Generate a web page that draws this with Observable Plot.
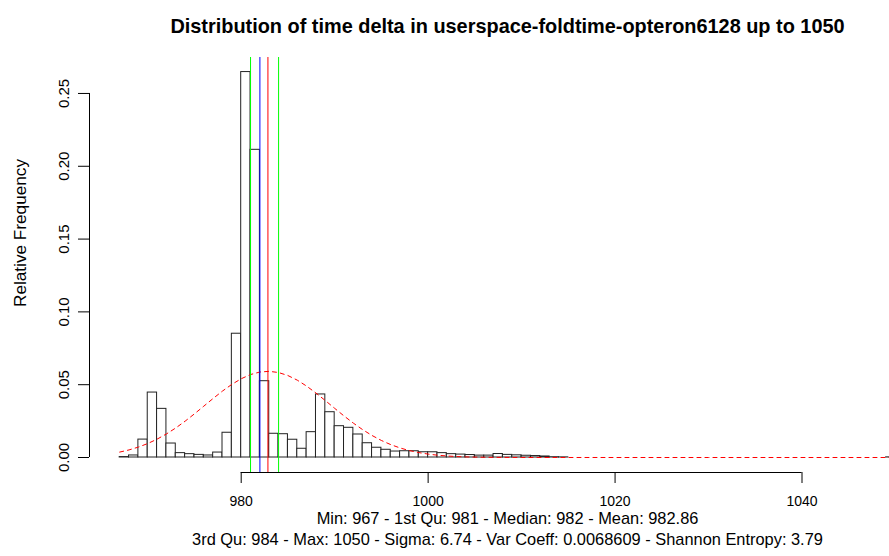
<!DOCTYPE html>
<html><head><meta charset="utf-8">
<script src="https://cdn.jsdelivr.net/npm/d3@7"></script>
<script src="https://cdn.jsdelivr.net/npm/@observablehq/plot@0.6"></script>
<style>body{margin:0;background:#fff} #chart svg{display:block}</style>
</head><body><div id="chart"></div>
<script>
// histogram bins (left edge, width 1) and relative frequency
const binStarts = [967,968,969,970,971,972,973,974,975,976,977,978,979,980,981,982,983,984,985,986,987,988,989,990,991,992,993,994,995,996,997,998,999,1000,1001,1002,1003,1004,1005,1006,1007,1008,1009,1010,1011,1012,1013,1014,1015,1016,1017,1018,1019,1020,1021,1022,1023,1024,1025,1026,1027,1028,1029,1030,1031,1032,1033,1034,1035,1036,1037,1038,1039,1040,1041,1042,1043,1044,1045,1046,1047,1048,1049];
const relFreq = [0.0003,0.0014,0.0123,0.0446,0.0334,0.0096,0.0030,0.0023,0.0018,0.0014,0.0034,0.0170,0.0850,0.2647,0.2113,0.0524,0.0163,0.0160,0.0122,0.0060,0.0174,0.0433,0.0311,0.0215,0.0204,0.0158,0.0098,0.0067,0.0053,0.0041,0.0043,0.0043,0.0036,0.0036,0.0030,0.0023,0.0020,0.0017,0.0013,0.0013,0.0024,0.0018,0.0015,0.0012,0.0010,0.0007,0.0002,0.0001,0,0,0,0,0,0,0,0,0,0,0,0,0,0,0,0,0,0,0,0,0,0,0,0,0,0,0,0,0,0,0,0,0,0,0.0001];

// fitted normal density curve (dashed red)
const curveX = [967,968,969,970,971,972,973,974,975,976,977,978,979,980,981,982,983,984,985,986,987,988,989,990,991,992,993,994,995,996,997,998,999,1000,1001,1002,1003,1004,1005,1006,1007,1008,1010,1020,1030,1040,1050];
const curveY = [0.00372,0.00521,0.00715,0.00959,0.01259,0.01617,0.02030,0.02494,0.02999,0.03526,0.04056,0.04564,0.05023,0.05409,0.05698,0.05871,0.05918,0.05835,0.05628,0.05311,0.04902,0.04426,0.03909,0.03377,0.02854,0.02360,0.01909,0.01511,0.01169,0.00885,0.00655,0.00475,0.00337,0.00233,0.00158,0.00105,0.00068,0.00043,0.00027,0.00016,0.0001,0.00006,0.00002,0,0,0,0];

// vertical lines: 1st Qu, Median, Mean, 3rd Qu
const statValues = [981, 982, 982.86, 984];
const statColors = ["#00ff00", "#0000ff", "#ff0000", "#00ff00"];

const xTicks = [980, 1000, 1020, 1040];
const yTicks = [0, 0.05, 0.10, 0.15, 0.20, 0.25];
const xDomain = [963.77, 1049.36];
const yDomain = [-0.0103, 0.2747];

const titleText = "Distribution of time delta in userspace-foldtime-opteron6128 up to 1050";
const subLines = [
  "Min: 967 - 1st Qu: 981 - Median: 982 - Mean: 982.86",
  "3rd Qu: 984 - Max: 1050 - Sigma: 6.74 - Var Coeff: 0.0068609 - Shannon Entropy: 3.79"
];
const yLabel = "Relative Frequency";

const bins = binStarts.map((s, i) => ({start: s, end: s + 1, freq: relFreq[i]}));
const curve = curveX.map((x, i) => ({x, y: curveY[i]}));
const stats = statValues.map((v, i) => ({v, c: statColors[i]}));

const font = "'Liberation Sans', Arial, Helvetica, sans-serif";

const chart = Plot.plot({
  width: 889, height: 556,
  marginTop: 57, marginBottom: 84, marginLeft: 89, marginRight: 0,
  style: {fontFamily: font, background: "#fff", color: "#000"},
  x: {domain: xDomain},
  y: {domain: yDomain},
  marks: [
    Plot.rectY(bins, {x1: "start", x2: "end", y1: 0, y2: "freq", fill: "white", stroke: "#222", strokeWidth: 1, clip: true}),
    Plot.line(curve, {x: "x", y: "y", stroke: "#ff0000", strokeWidth: 1, strokeDasharray: "4,4", clip: true}),
    Plot.ruleX(stats, {x: "v", stroke: "c", strokeWidth: 1}),
    Plot.axisX({ticks: xTicks, tickSize: 11, tickPadding: 13, tickFormat: "d", label: null, fontSize: 14}),
    Plot.ruleY([yDomain[0]], {x1: xTicks[0], x2: xTicks[xTicks.length - 1], stroke: "#000"}),
    Plot.axisY({ticks: yTicks, tickSize: 11, tickPadding: 10, tickRotate: -90, tickFormat: ".2f", label: null, fontSize: 15}),
    Plot.ruleX([xDomain[0]], {y1: yTicks[0], y2: yTicks[yTicks.length - 1], stroke: "#000"}),
    Plot.text([yLabel], {text: d => d, frameAnchor: "left", textAnchor: "middle", dx: -69, dy: -32, rotate: -90, fontSize: 17.2}),
    Plot.text([titleText], {text: d => d, frameAnchor: "top", dx: 18, dy: -39, fontSize: 19.9, fontWeight: "bold"}),
    Plot.text([subLines[0]], {text: d => d, frameAnchor: "bottom", dx: 18, dy: 51, fontSize: 16.4}),
    Plot.text([subLines[1]], {text: d => d, frameAnchor: "bottom", dx: 18, dy: 72, fontSize: 16.4})
  ]
});
document.getElementById("chart").appendChild(chart);
</script>
</body></html>
